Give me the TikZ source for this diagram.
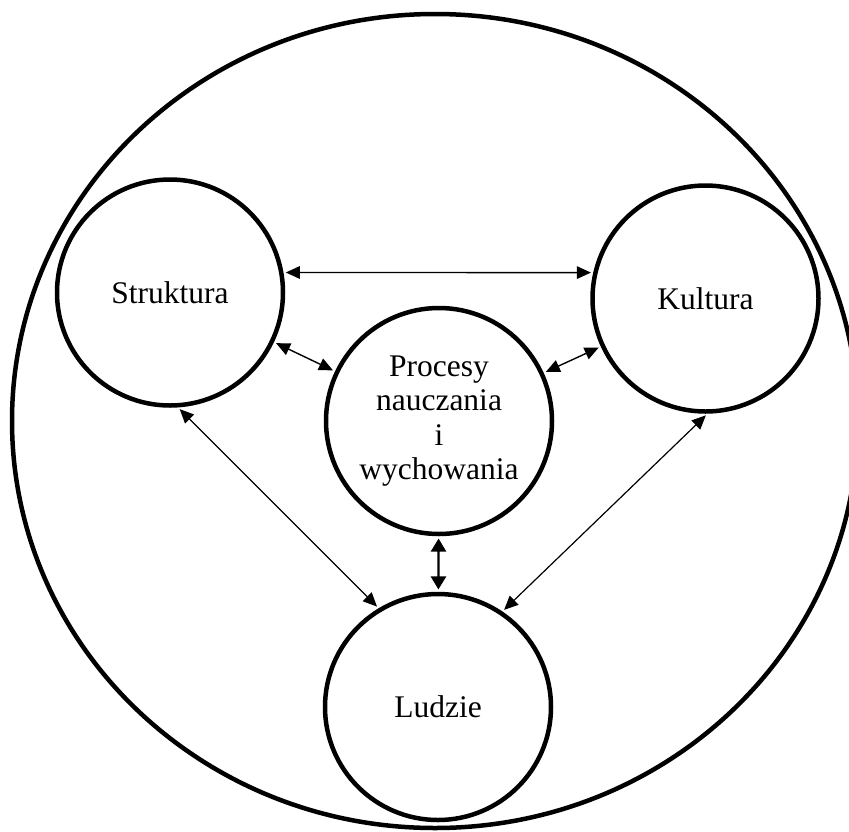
\documentclass[tikz,border=0pt]{standalone}
\usepackage{fontspec}
\setmainfont{Liberation Serif}
\usetikzlibrary{arrows.meta}
\begin{document}
\begin{tikzpicture}[x=1pt,y=-1pt,
  area/.style={circle, draw, line width=4.5pt, minimum size=226pt, inner sep=0pt,
    align=center, font=\fontsize{31.5}{34.5}\selectfont},
  link/.style={{Triangle[length=14pt,width=12.5pt]}-{Triangle[length=14pt,width=12.5pt]},
    line width=1.4pt, shorten <=2.3pt, shorten >=2.3pt},
  longlink/.style={link, line width=1.2pt},
  mainlink/.style={{Triangle[length=13pt,width=15pt]}-{Triangle[length=13pt,width=15pt]},
    line width=2.4pt, shorten <=2.3pt, shorten >=2.3pt}]
\useasboundingbox (0,0) rectangle (849,831);

% surrounding environment
\begin{scope}
  \clip (0,0) rectangle (849,831);
  \draw[line width=4.5pt] (435,421) ellipse [x radius=423, y radius=407];
\end{scope}

% the four areas
\node[area] (s) at (170,292.5) {Struktura};
\node[area] (k) at (705.5,298.5) {Kultura};
\node[area] (p) at (439,421) {Procesy\\nauczania\\i\\wychowania};
\node[area] (l) at (438,707) {Ludzie};

% relations
\draw[link] (s.10) -- (k.167);
\draw[link] (s) -- (p);
\draw[link] (k) -- (p);
\draw[longlink] (s.-86.5) -- (l.121.7);
\draw[longlink] (k.-89) -- (l.56);
\draw[mainlink] (p) -- (l);
\end{tikzpicture}
\end{document}
